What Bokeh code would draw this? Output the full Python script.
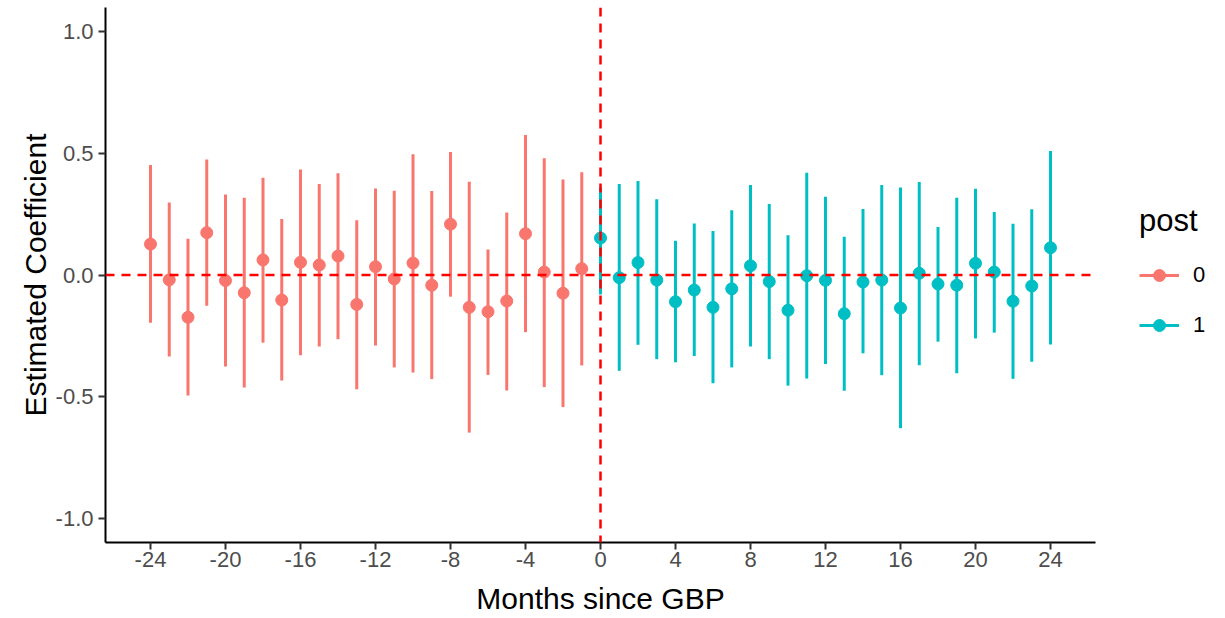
from bokeh.plotting import figure
from bokeh.models import Range1d, Span, Legend, LegendItem, ColumnDataSource, FixedTicker
from bokeh.layouts import row
from bokeh.embed import file_html
from bokeh.resources import INLINE

months_pre = [-24, -23, -22, -21, -20, -19, -18, -17, -16, -15, -14, -13,
              -12, -11, -10, -9, -8, -7, -6, -5, -4, -3, -2, -1]
est_pre = [0.127, -0.020, -0.174, 0.174, -0.023, -0.073, 0.062, -0.103, 0.052, 0.041, 0.078, -0.121,
           0.034, -0.016, 0.049, -0.042, 0.209, -0.133, -0.151, -0.107, 0.170, 0.012, -0.075, 0.026]
lo_pre = [-0.196, -0.335, -0.495, -0.126, -0.376, -0.463, -0.278, -0.434, -0.330, -0.294, -0.264, -0.470,
          -0.290, -0.380, -0.401, -0.428, -0.089, -0.648, -0.411, -0.475, -0.235, -0.461, -0.543, -0.372]
hi_pre = [0.452, 0.298, 0.149, 0.475, 0.331, 0.318, 0.400, 0.230, 0.434, 0.374, 0.418, 0.225,
          0.356, 0.346, 0.497, 0.345, 0.506, 0.383, 0.105, 0.257, 0.576, 0.480, 0.393, 0.423]

months_post = [0, 1, 2, 3, 4, 5, 6, 7, 8, 9, 10, 11, 12,
               13, 14, 15, 16, 17, 18, 19, 20, 21, 22, 23, 24]
est_post = [0.152, -0.011, 0.051, -0.021, -0.110, -0.062, -0.133, -0.057, 0.038, -0.027, -0.145, -0.003, -0.022,
            -0.159, -0.029, -0.021, -0.136, 0.007, -0.037, -0.042, 0.048, 0.012, -0.108, -0.045, 0.112]
lo_post = [-0.080, -0.394, -0.287, -0.346, -0.359, -0.333, -0.445, -0.380, -0.294, -0.346, -0.455, -0.426, -0.366,
           -0.476, -0.322, -0.412, -0.630, -0.371, -0.274, -0.404, -0.261, -0.237, -0.427, -0.357, -0.286]
hi_post = [0.360, 0.374, 0.387, 0.311, 0.141, 0.212, 0.181, 0.266, 0.370, 0.292, 0.163, 0.420, 0.322,
           0.157, 0.271, 0.370, 0.360, 0.382, 0.197, 0.318, 0.355, 0.259, 0.211, 0.270, 0.510]

x_ticks = [-24, -20, -16, -12, -8, -4, 0, 4, 8, 12, 16, 20, 24]
x_tick_labels = ["-24", "-20", "-16", "-12", "-8", "-4", "0", "4", "8", "12", "16", "20", "24"]
y_ticks = [-1.0, -0.5, 0.0, 0.5, 1.0]
y_tick_labels = ["-1.0", "-0.5", "0.0", "0.5", "1.0"]
group_labels = ["0", "1"]
colors = ["#F8766D", "#00BFC4"]

FONT = "Liberation Sans"

src_pre = ColumnDataSource(dict(x=months_pre, y=est_pre, lo=lo_pre, hi=hi_pre))
src_post = ColumnDataSource(dict(x=months_post, y=est_post, lo=lo_post, hi=hi_post))


def draw_series(fig):
    s0 = fig.segment(x0="x", y0="lo", x1="x", y1="hi", source=src_pre, line_color=colors[0], line_width=3)
    m0 = fig.scatter(x="x", y="y", source=src_pre, size=12, fill_color=colors[0], line_color=colors[0])
    s1 = fig.segment(x0="x", y0="lo", x1="x", y1="hi", source=src_post, line_color=colors[1], line_width=3)
    m1 = fig.scatter(x="x", y="y", source=src_post, size=12, fill_color=colors[1], line_color=colors[1])
    return s0, m0, s1, m1


# ---- main panel ----
p = figure(frame_width=990, frame_height=535,
           min_border_left=105, min_border_right=15, min_border_top=7, min_border_bottom=76,
           x_range=Range1d(-26.4, 26.4), y_range=Range1d(-1.1, 1.1),
           output_backend="svg", toolbar_location=None,
           background_fill_color="white", border_fill_color="white")
p.outline_line_color = None
p.xgrid.visible = False
p.ygrid.visible = False
draw_series(p)

p.add_layout(Span(location=0, dimension="width", line_color="#FF0000", line_width=2.5, line_dash="9 7"))
p.add_layout(Span(location=0, dimension="height", line_color="#FF0000", line_width=2.5, line_dash="9 7"))

for ax in (p.xaxis[0], p.yaxis[0]):
    ax.axis_line_color = "black"
    ax.axis_line_width = 2
    ax.major_tick_line_color = "#333333"
    ax.major_tick_line_width = 2
    ax.major_tick_out = 7
    ax.major_tick_in = 0
    ax.minor_tick_line_color = None
    ax.major_label_text_font = FONT
    ax.major_label_text_font_size = "22px"
    ax.major_label_text_color = "#4D4D4D"
    ax.axis_label_text_font = FONT
    ax.axis_label_text_font_size = "30px"
    ax.axis_label_text_font_style = "normal"
    ax.axis_label_text_color = "black"

p.xaxis[0].ticker = FixedTicker(ticks=x_ticks)
p.yaxis[0].ticker = FixedTicker(ticks=y_ticks)
p.xaxis[0].major_label_overrides = dict(zip(x_ticks, x_tick_labels))
p.yaxis[0].major_label_overrides = dict(zip(y_ticks, y_tick_labels))
p.xaxis[0].axis_label = "Months since GBP"
p.yaxis[0].axis_label = "Estimated Coefficient"
p.xaxis[0].major_label_standoff = 2
p.yaxis[0].major_label_standoff = 5
p.xaxis[0].axis_label_standoff = 12
p.yaxis[0].axis_label_standoff = 1

# ---- legend panel (series drawn off-view; only its legend shows) ----
q = figure(width=115, height=618,
           min_border_left=0, min_border_right=0, min_border_top=0, min_border_bottom=0,
           x_range=Range1d(100, 101), y_range=Range1d(100, 101),
           x_axis_location=None, y_axis_location=None,
           output_backend="svg", toolbar_location=None,
           background_fill_color="white", border_fill_color="white")
q.outline_line_color = None
q.xgrid.visible = False
q.ygrid.visible = False
ls0, lm0, ls1, lm1 = draw_series(q)

legend = Legend(items=[LegendItem(label=group_labels[0], renderers=[ls0, lm0]),
                       LegendItem(label=group_labels[1], renderers=[ls1, lm1])],
                location=(29, 202), orientation="vertical",
                title="post", title_text_font=FONT, title_text_font_size="31px",
                title_text_font_style="normal", title_text_color="black", title_standoff=21,
                label_text_font=FONT, label_text_font_size="22px", label_text_color="black",
                glyph_width=40, glyph_height=30, label_height=30, spacing=20,
                label_standoff=14, padding=0, margin=0,
                border_line_color=None, background_fill_alpha=0)
q.add_layout(legend, "center")

layout = row(p, q)
open("out.html", "w").write(file_html(layout, INLINE))
